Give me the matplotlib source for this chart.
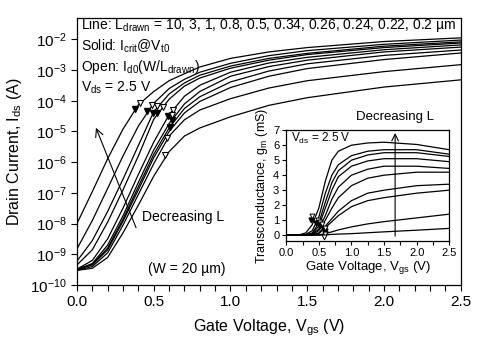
import numpy as np
import matplotlib
matplotlib.use("Agg")
import matplotlib.pyplot as plt
from matplotlib.ticker import MultipleLocator, LogLocator, FuncFormatter, NullLocator

plt.rcParams['font.family'] = ['Liberation Sans', 'DejaVu Sans']
plt.rcParams['mathtext.default'] = 'regular'

# gate voltage grid of the main plot (V)
vgs = [0.0, 0.1, 0.2, 0.3, 0.4, 0.5, 0.6, 0.7, 0.8, 1.0, 1.25, 1.5, 2.0, 2.5]

# drain current (A), one list per drawn length
ids_L10 = [3.0e-10, 3.5e-10, 7.9e-10, 5.0e-9, 4.0e-8, 3.5e-7, 2.2e-6, 7.1e-6, 1.3e-5, 3.0e-5, 7.1e-5, 1.26e-4, 2.8e-4, 4.8e-4]
ids_L3 = [3.0e-10, 4.0e-10, 1.12e-9, 8.9e-9, 8.9e-8, 8.9e-7, 7.1e-6, 2.4e-5, 5.0e-5, 1.17e-4, 2.6e-4, 4.5e-4, 8.9e-4, 1.5e-3]
ids_L1 = [3.2e-10, 4.5e-10, 1.4e-9, 1.2e-8, 1.26e-7, 1.4e-6, 1.0e-5, 4.0e-5, 9.5e-5, 2.7e-4, 6.3e-4, 1.12e-3, 2.2e-3, 3.6e-3]
ids_L08 = [3.2e-10, 4.7e-10, 1.6e-9, 1.4e-8, 1.6e-7, 1.8e-6, 1.3e-5, 5.6e-5, 1.35e-4, 4.1e-4, 9.3e-4, 1.6e-3, 3.0e-3, 4.5e-3]
ids_L05 = [3.2e-10, 5.0e-10, 2.0e-9, 1.8e-8, 2.2e-7, 2.5e-6, 1.8e-5, 7.9e-5, 2.0e-4, 6.3e-4, 1.3e-3, 2.1e-3, 3.9e-3, 5.6e-3]
ids_L034 = [3.3e-10, 6.3e-10, 3.2e-9, 3.2e-8, 4.0e-7, 4.5e-6, 3.5e-5, 1.4e-4, 3.2e-4, 8.5e-4, 1.7e-3, 2.6e-3, 4.6e-3, 6.6e-3]
ids_L026 = [4.5e-10, 1.4e-9, 1.12e-8, 1.26e-7, 1.6e-6, 2.5e-5, 1.12e-4, 3.0e-4, 5.5e-4, 1.15e-3, 2.1e-3, 3.2e-3, 5.4e-3, 7.6e-3]
ids_L024 = [6.0e-10, 2.8e-9, 2.5e-8, 2.8e-7, 3.5e-6, 4.4e-5, 1.66e-4, 3.8e-4, 6.8e-4, 1.35e-3, 2.4e-3, 3.5e-3, 6.0e-3, 8.3e-3]
ids_L022 = [1.5e-9, 1.26e-8, 1.4e-7, 1.6e-6, 1.5e-5, 8.3e-5, 2.5e-4, 5.0e-4, 8.5e-4, 1.66e-3, 2.95e-3, 4.3e-3, 6.9e-3, 9.5e-3]
ids_L02 = [1.0e-8, 1.1e-7, 1.3e-6, 1.2e-5, 7.4e-5, 2.0e-4, 4.5e-4, 7.6e-4, 1.26e-3, 2.4e-3, 3.9e-3, 5.4e-3, 8.5e-3, 1.12e-2]

# markers: solid = Icrit @ Vt0, open = Id0 (W/Ldrawn)
solid_v = [0.378, 0.456, 0.495, 0.52, 0.59, 0.62, 0.605]
solid_i = [5.4e-5, 4.7e-5, 4.0e-5, 4.0e-5, 3.2e-5, 2.3e-5, 1.4e-5]
open_v = [0.41, 0.488, 0.52, 0.56, 0.625, 0.62, 0.586, 0.573]
open_i = [8.5e-5, 7.2e-5, 6.8e-5, 6.3e-5, 5.0e-5, 3.5e-5, 6.2e-6, 1.7e-6]

# inset: transconductance (mS)
gm_v = [0.0, 0.2, 0.3, 0.4, 0.5, 0.6, 0.7, 0.8, 1.0, 1.25, 1.5, 2.0, 2.5]
gm_L10 = [0, 0, 0, 0, 0, 0.02, 0.05, 0.07, 0.1, 0.16, 0.22, 0.33, 0.45]
gm_L3 = [0, 0, 0, 0, 0.02, 0.1, 0.22, 0.35, 0.55, 0.75, 0.9, 1.15, 1.4]
gm_L1 = [0, 0, 0, 0.01, 0.1, 0.5, 0.9, 1.3, 1.9, 2.3, 2.5, 2.8, 3.0]
gm_L08 = [0, 0, 0, 0.02, 0.15, 0.6, 1.1, 1.6, 2.3, 2.8, 3.0, 3.3, 3.4]
gm_L05 = [0, 0, 0, 0.03, 0.3, 1.0, 1.8, 2.5, 3.3, 3.8, 4.0, 4.2, 4.2]
gm_L034 = [0, 0, 0, 0.05, 0.4, 1.3, 2.4, 3.2, 4.0, 4.4, 4.6, 4.6, 4.45]
gm_L026 = [0, 0, 0.01, 0.1, 0.6, 1.8, 3.0, 3.9, 4.6, 4.95, 5.1, 5.1, 4.9]
gm_L024 = [0, 0, 0.02, 0.15, 0.8, 2.2, 3.5, 4.3, 5.0, 5.35, 5.5, 5.5, 5.25]
gm_L022 = [0, 0, 0.05, 0.3, 1.2, 2.8, 4.0, 4.7, 5.3, 5.6, 5.7, 5.7, 5.4]
gm_L02 = [0, 0.02, 0.15, 0.7, 1.8, 3.6, 5.0, 5.6, 6.0, 6.15, 6.2, 6.05, 5.7]

gm_solid_v = [0.38, 0.45, 0.5, 0.52, 0.58, 0.6, 0.6]
gm_solid = [1.0, 0.8, 0.7, 0.6, 0.4, 0.3, 0.15]
gm_open_v = [0.4, 0.48, 0.52, 0.55, 0.6, 0.6, 0.58]
gm_open = [1.3, 1.0, 0.9, 0.75, 0.5, 0.1, -0.1]

ids_all = [ids_L10, ids_L3, ids_L1, ids_L08, ids_L05, ids_L034, ids_L026, ids_L024, ids_L022, ids_L02]
gm_all = [gm_L10, gm_L3, gm_L1, gm_L08, gm_L05, gm_L034, gm_L026, gm_L024, gm_L022, gm_L02]

fig = plt.figure(figsize=(4.81, 3.51), dpi=100)
ax = fig.add_axes([0.160, 0.188, 0.798, 0.761])

for y in ids_all:
    ax.plot(vgs, y, color='black', lw=0.9)
ax.plot(solid_v, solid_i, 'v', color='black', ms=4.5, ls='none')
ax.plot(open_v, open_i, 'v', mfc='white', mec='black', mew=0.8, ms=4.5, ls='none')

ax.set_yscale('log')
ax.set_xlim(0, 2.5)
ax.set_ylim(1e-10, 5e-2)
ax.xaxis.set_major_locator(MultipleLocator(0.5))
ax.xaxis.set_minor_locator(MultipleLocator(0.1))
ax.yaxis.set_major_locator(LogLocator(base=10, numticks=20))
ax.yaxis.set_minor_locator(NullLocator())
ax.xaxis.set_major_formatter(FuncFormatter(lambda v, p: f"{v:.1f}"))
ax.yaxis.set_major_formatter(FuncFormatter(lambda v, p: f"10$^{{{int(round(np.log10(v)))}}}$"))
ax.tick_params(which='both', direction='out', length=4, width=0.8, labelsize=11)
for s in ax.spines.values():
    s.set_linewidth(0.9)
ax.set_xlabel("Gate Voltage, V$_{gs}$ (V)", fontsize=11.5, labelpad=6)
ax.set_ylabel("Drain Current, I$_{ds}$ (A)", fontsize=11.5, labelpad=4)

tx = dict(transform=ax.transAxes, fontsize=10, ha='left', va='center')
ax.text(0.010, 0.973, "Line: L$_{drawn}$ = 10, 3, 1, 0.8, 0.5, 0.34, 0.26, 0.24, 0.22, 0.2 \u00b5m", **tx)
ax.text(0.010, 0.894, "Solid: I$_{crit}$@V$_{t0}$", **tx)
ax.text(0.010, 0.816, "Open: I$_{d0}$(W/L$_{drawn}$)", **tx)
ax.text(0.010, 0.737, "V$_{ds}$ = 2.5 V", **tx)
ax.text(0.185, 0.06, "(W = 20 \u00b5m)", transform=ax.transAxes, fontsize=10, ha='left', va='center')
ax.text(0.169, 0.253, "Decreasing L", transform=ax.transAxes, fontsize=10, ha='left', va='center')
ax.annotate("", xy=(0.117, 1.6e-5), xytext=(0.392, 6.0e-9),
            arrowprops=dict(arrowstyle='->', color='black', lw=0.8, mutation_scale=14))

# inset
ins = fig.add_axes([0.595, 0.313, 0.339, 0.316])
for g in gm_all:
    ins.plot(gm_v, g, color='black', lw=0.9)
ins.plot(gm_solid_v, gm_solid, 'v', color='black', ms=3.5, ls='none')
ins.plot(gm_open_v, gm_open, 'v', mfc='white', mec='black', mew=0.7, ms=3.5, ls='none')
ins.set_xlim(0, 2.5)
ins.set_ylim(-0.4, 7)
ins.xaxis.set_major_locator(MultipleLocator(0.5))
ins.xaxis.set_minor_locator(MultipleLocator(0.25))
ins.yaxis.set_major_locator(MultipleLocator(1))
ins.xaxis.set_major_formatter(FuncFormatter(lambda v, p: f"{v:.1f}"))
ins.tick_params(which='both', direction='out', length=3, width=0.8, labelsize=8, pad=2)
for s in ins.spines.values():
    s.set_linewidth(0.9)
ins.set_xlabel("Gate Voltage, V$_{gs}$ (V)", fontsize=9.5, labelpad=1)
ins.set_ylabel("Transconductance, g$_m$ (mS)", fontsize=9, labelpad=2)
ins.text(0.03, 0.93, "V$_{ds}$ = 2.5 V", transform=ins.transAxes, fontsize=8.5, ha='left', va='center')
ins.annotate("", xy=(1.67, 7.0), xytext=(1.67, -0.25),
             arrowprops=dict(arrowstyle='->', color='black', lw=0.8, mutation_scale=12))
ins.text(1.67, 7.5, "Decreasing L", fontsize=9.5, ha='center', va='bottom')

fig.savefig("out.png", dpi=100)
